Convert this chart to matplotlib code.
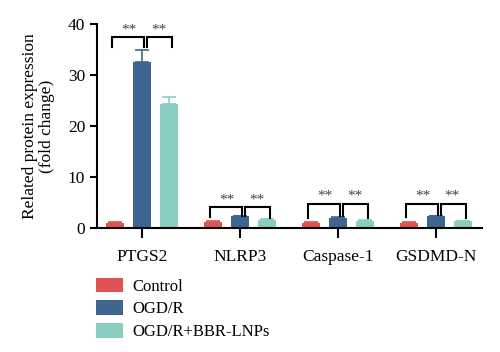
import numpy as np
import matplotlib
matplotlib.use("Agg")
import matplotlib.pyplot as plt
from matplotlib.patches import Patch

genes = ["PTGS2", "NLRP3", "Caspase-1", "GSDMD-N"]
groups = ["Control", "OGD/R", "OGD/R+BBR-LNPs"]
colors = ["#e05353", "#3f6690", "#89cec0"]

means = [
    [1.0, 1.1, 1.05, 1.05],   # Control
    [32.5, 2.3, 1.9, 2.3],    # OGD/R
    [24.3, 1.6, 1.4, 1.3],    # OGD/R+BBR-LNPs
]
errs = [
    [0.15, 0.25, 0.1, 0.1],
    [2.3, 0.1, 0.2, 0.15],
    [1.4, 0.1, 0.1, 0.1],
]

# significance brackets: top height, legs bottom (left, mid, right), star height
br_top = [37.4, 4.1, 4.8, 4.8]
br_legs = [[35.4, 35.4, 35.4], [2.1, 2.4, 2.0], [2.0, 2.4, 2.0], [2.1, 2.5, 2.0]]
star_y = [37.6, 4.3, 5.0, 5.0]

plt.rcParams['font.family'] = ['Liberation Serif', 'DejaVu Serif']
plt.rcParams['font.size'] = 12.5

fig = plt.figure(figsize=(5, 3.52), dpi=100)
ax = fig.add_axes([0.194, 0.352, 0.77, 0.58])

x = np.arange(len(genes))
off = 0.275
w = 0.185
for i, g in enumerate(groups):
    xs = x + (i - 1) * off
    ax.bar(xs, means[i], w, color=colors[i], zorder=2)
    ax.errorbar(xs, means[i], yerr=[np.zeros(len(genes)), errs[i]], fmt='none',
                ecolor=colors[i], elinewidth=1.2, capsize=5, capthick=1.2, zorder=2)

for j in range(len(genes)):
    xc, xo, xb = x[j] - off, x[j], x[j] + off
    top = br_top[j]
    l, m, r = br_legs[j]
    ax.plot([xc - 0.03, xc - 0.03, xo + 0.02, xo + 0.02], [l, top, top, m],
            color='black', lw=1.5, solid_joinstyle='miter', zorder=3)
    ax.plot([xo + 0.05, xo + 0.05, xb + 0.03, xb + 0.03], [m, top, top, r],
            color='black', lw=1.5, solid_joinstyle='miter', zorder=3)
    ax.text((xc + xo) / 2, star_y[j], "**", ha='center', va='bottom', fontsize=11, color='#444444')
    ax.text((xo + xb) / 2 + 0.03, star_y[j], "**", ha='center', va='bottom', fontsize=11, color='#444444')

ax.set_xlim(-0.46, 3.47)
ax.set_ylim(0, 40)
ax.set_yticks([0, 10, 20, 30, 40])
ax.set_xticks(x)
ax.set_xticklabels(genes)
ax.spines['top'].set_visible(False)
ax.spines['right'].set_visible(False)
ax.spines['left'].set_linewidth(1.5)
ax.spines['bottom'].set_linewidth(1.5)
ax.tick_params(axis='y', width=1.5, length=5)
ax.tick_params(axis='x', width=1.5, length=7, pad=8)
ax.set_ylabel("Related protein expression\n(fold change)", linespacing=1.1, labelpad=9)

handles = [Patch(facecolor=c, edgecolor='none') for c in colors]
fig.legend(handles, groups, loc='upper left', bbox_to_anchor=(0.178, 0.23),
           frameon=False, handlelength=1.65, handleheight=0.95, handletextpad=0.55,
           labelspacing=0.35, borderaxespad=0, fontsize=12)

fig.savefig("out.png", dpi=100)
